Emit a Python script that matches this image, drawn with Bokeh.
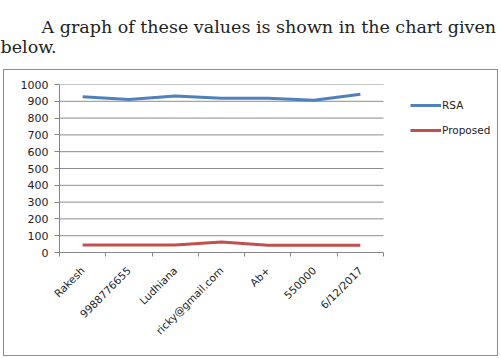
import math
from bokeh.plotting import figure
from bokeh.models import (ColumnDataSource, FixedTicker, Range1d, Legend, LegendItem, Title,
                          InlineStyleSheet)
from bokeh.embed import file_html
from bokeh.resources import INLINE

# ---- data ----
categories = ["Rakesh", "9988776655", "Ludhiana", "ricky@gmail.com", "Ab+", "550000", "6/12/2017"]
rsa = [927, 910, 932, 918, 918, 906, 942]
proposed = [44, 44, 44, 63, 43, 43, 43]
y_ticks = [0, 100, 200, 300, 400, 500, 600, 700, 800, 900, 1000]
series_names = ["RSA", "Proposed"]
intro_line1 = "A graph of these values is shown in the chart given"
intro_line2 = "below."

W, H = 501, 358
FL, FT, FB = 59, 84, 252     # frame edges in canvas pixels
PLOT_R = 383                 # right edge of the category area
n = len(categories)
xs = [i + 0.5 for i in range(n)]
x_end = n * (W - FL) / (PLOT_R - FL)   # frame runs to the canvas edge; legend sits in it

p = figure(width=W, height=H, output_backend="svg", toolbar_location=None,
           x_range=Range1d(0, x_end), y_range=Range1d(0, 1000),
           min_border_left=FL, min_border_right=0, min_border_top=FT, min_border_bottom=H - FB)
p.outline_line_color = None

# outer chart border box (CSS, no effect on layout)
p.stylesheets = [InlineStyleSheet(css="""
:host { position: relative; }
:host::after { content: ''; position: absolute; left: 3px; top: 69px; width: 495px; height: 287px;
  border: 1px solid #8c8c8c; box-sizing: border-box; pointer-events: none; }
""")]

# horizontal gridlines over the category area only
p.xgrid.visible = False
p.ygrid.visible = False
p.segment(x0=[0] * len(y_ticks), x1=[n] * len(y_ticks), y0=y_ticks, y1=y_ticks,
          line_color="#8c8c8c", line_width=1)

src = ColumnDataSource(dict(x=xs, rsa=rsa, proposed=proposed))
r1 = p.line("x", "rsa", source=src, line_color="#4F81BD", line_width=3)
r2 = p.line("x", "proposed", source=src, line_color="#C0504D", line_width=3)

AX_FONT = "DejaVu Sans"
yax = p.yaxis[0]
yax.ticker = FixedTicker(ticks=y_ticks)
yax.axis_line_color = "#868686"
yax.major_tick_line_color = "#868686"
yax.major_tick_out = 5
yax.major_tick_in = 0
yax.minor_tick_line_color = None
yax.major_label_text_font = AX_FONT
yax.major_label_text_font_size = "11px"
yax.major_label_text_color = "#222222"
yax.major_label_standoff = 6

xax = p.xaxis[0]
xax.bounds = (0, n)
xax.ticker = FixedTicker(ticks=xs, minor_ticks=list(range(n + 1)))
xax.major_label_overrides = {x: c for x, c in zip(xs, categories)}
xax.axis_line_color = "#868686"
xax.major_tick_line_color = None
xax.major_tick_out = 0
xax.major_tick_in = 0
xax.minor_tick_line_color = "#868686"
xax.minor_tick_out = 4
xax.minor_tick_in = 0
xax.major_label_orientation = math.pi / 4
xax.major_label_text_font = AX_FONT
xax.major_label_text_font_size = "10.5px"
xax.major_label_text_color = "#222222"
xax.major_label_standoff = 12

legend = Legend(items=[LegendItem(label=series_names[0], renderers=[r1]),
                       LegendItem(label=series_names[1], renderers=[r2])],
                location=(410 - FL, FB - 140))
legend.border_line_color = None
legend.background_fill_alpha = 0
legend.padding = 0
legend.margin = 0
legend.spacing = 5
legend.glyph_width = 31
legend.glyph_height = 20
legend.label_standoff = 1
legend.label_text_font = AX_FONT
legend.label_text_font_size = "10.5px"
legend.label_text_color = "#222222"
p.add_layout(legend, "center")

# paragraph text above the chart (second line first: it sits nearest the frame)
p.add_layout(Title(text=intro_line2, align="left", offset=-FL, standoff=0, vertical_align="top",
                   padding=dict(left=0, right=0, top=0, bottom=26),
                   text_font="DejaVu Serif", text_font_size="17.5px",
                   text_font_style="normal", text_color="#222222"), "above")
p.add_layout(Title(text=intro_line1, align="left", offset=41 - FL, standoff=0,
                   text_font="DejaVu Serif", text_font_size="17.5px",
                   text_font_style="normal", text_color="#222222"), "above")

open("out.html", "w").write(file_html(p, INLINE))
